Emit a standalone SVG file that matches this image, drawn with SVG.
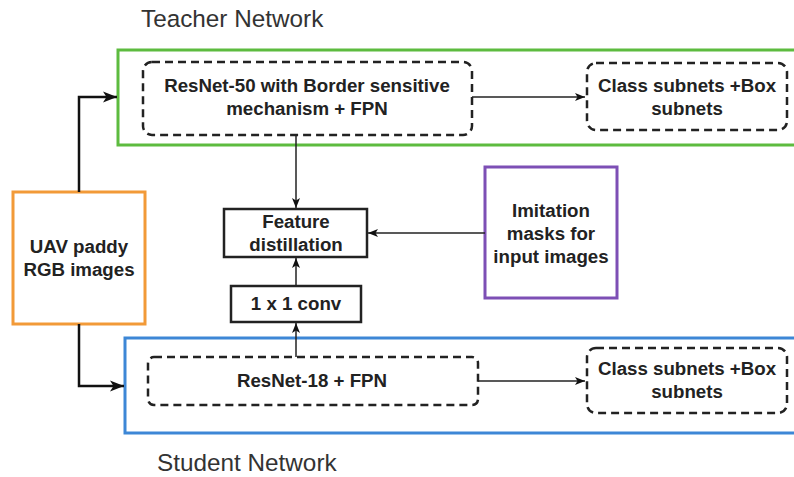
<svg xmlns="http://www.w3.org/2000/svg" width="794" height="477" viewBox="0 0 794 477">
<defs>
<style>
.title{font-family:"Liberation Sans",Arial,sans-serif;font-size:24.3px;fill:#333}
.lbl{font-family:"Liberation Sans",Arial,sans-serif;font-size:18.7px;font-weight:bold;fill:#222;text-anchor:middle}
.dash{fill:none;stroke:#222;stroke-width:2.5;stroke-dasharray:8 5}
.solid{fill:#fff;stroke:#222;stroke-width:2.5}
.thin{fill:none;stroke:#222;stroke-width:1.5}
.thick{fill:none;stroke:#111;stroke-width:2.5}
</style>
<marker id="ah" viewBox="0 0 10 10" refX="10" refY="5" markerWidth="10" markerHeight="10" markerUnits="userSpaceOnUse" orient="auto">
<path d="M0,1 L10,5 L0,9 L2.5,5 Z" fill="#111"/>
</marker>
<marker id="ahb" viewBox="0 0 10 10" refX="10" refY="5" markerWidth="14" markerHeight="14" markerUnits="userSpaceOnUse" orient="auto">
<path d="M0,1 L10,5 L0,9 L2.5,5 Z" fill="#111"/>
</marker>
</defs>
<rect width="794" height="477" fill="#fff"/>

<text class="title" x="141" y="27">Teacher Network</text>
<text class="title" x="157" y="471">Student Network</text>

<g id="teacher-network">
<rect x="118" y="50" width="690" height="95" fill="none" stroke="#5dbb3f" stroke-width="3"/>
</g>
<g id="student-network">
<rect x="125" y="338" width="683" height="95" fill="none" stroke="#3d87d6" stroke-width="3"/>
</g>

<g id="teacher-backbone">
<rect class="dash" x="143" y="62" width="329" height="73" rx="9"/>
<text class="lbl" x="307" y="92">ResNet-50 with Border sensitive</text>
<text class="lbl" x="307" y="115">mechanism + FPN</text>
</g>
<g id="teacher-heads">
<rect class="dash" x="587" y="63" width="200" height="67" rx="9"/>
<text class="lbl" x="687" y="92">Class subnets +Box</text>
<text class="lbl" x="687" y="115">subnets</text>
</g>

<g id="student-backbone">
<rect class="dash" x="148" y="357" width="330" height="48" rx="6"/>
<text class="lbl" x="312" y="387">ResNet-18 + FPN</text>
</g>
<g id="student-heads">
<rect class="dash" x="587" y="348" width="200" height="65" rx="9"/>
<text class="lbl" x="687" y="375">Class subnets +Box</text>
<text class="lbl" x="687" y="398">subnets</text>
</g>

<g id="input">
<rect x="13" y="192" width="132" height="132" fill="#fff" stroke="#f29a38" stroke-width="3"/>
<text class="lbl" x="79" y="253">UAV paddy</text>
<text class="lbl" x="79" y="276">RGB images</text>
</g>

<g id="feature-distillation">
<rect class="solid" x="224" y="209" width="143" height="48"/>
<text class="lbl" x="296" y="228">Feature</text>
<text class="lbl" x="296" y="251">distillation</text>
</g>

<g id="conv">
<rect class="solid" x="231" y="286" width="130" height="36"/>
<text class="lbl" x="296" y="310">1 x 1 conv</text>
</g>

<g id="imitation-masks">
<rect x="485" y="167" width="132" height="131" fill="#fff" stroke="#7d4fb5" stroke-width="3"/>
<text class="lbl" x="551" y="217">Imitation</text>
<text class="lbl" x="551" y="240">masks for</text>
<text class="lbl" x="551" y="263">input images</text>
</g>

<g id="connectors">
<path class="thick" d="M79,192 V97 H117" marker-end="url(#ahb)"/>
<path class="thick" d="M79,324 V386 H124" marker-end="url(#ahb)"/>
<path class="thin" d="M472,97 H585" marker-end="url(#ah)"/>
<path class="thin" d="M478,381 H585" marker-end="url(#ah)"/>
<path class="thin" d="M296,135 V208" marker-end="url(#ah)"/>
<path class="thin" d="M296,286 V258" marker-end="url(#ah)"/>
<path class="thin" d="M296,357 V323" marker-end="url(#ah)"/>
<path class="thin" d="M485,233 H368" marker-end="url(#ah)"/>
</g>
</svg>
